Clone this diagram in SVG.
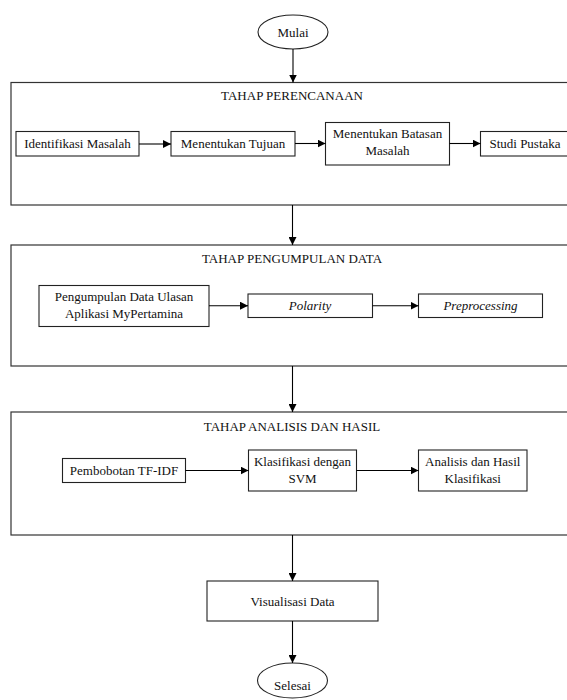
<svg xmlns="http://www.w3.org/2000/svg" width="567" height="700" viewBox="0 0 567 700">
<defs>
<marker id="arr" markerUnits="userSpaceOnUse" markerWidth="9" markerHeight="8" refX="8" refY="4" orient="auto">
<path d="M0,0 L8,4 L0,8 z" fill="#000"/>
</marker>
<style>
.box{fill:#fff;stroke:#222;stroke-width:1.1}
.stage{fill:none;stroke:#333;stroke-width:1.2}
.t{font-family:"Liberation Serif","Times New Roman",serif;font-size:13px;fill:#111;text-anchor:middle}
.i{font-style:italic}
.c{fill:none;stroke:#000;stroke-width:1.1;marker-end:url(#arr)}
</style>
</defs>
<rect width="567" height="700" fill="#fff"/>

<g id="stage1">
<rect class="stage" x="11" y="82.5" width="570" height="122.5"/>
<text class="t" x="292" y="100">TAHAP PERENCANAAN</text>
</g>
<g id="stage2">
<rect class="stage" x="11" y="245" width="570" height="121"/>
<text class="t" x="292" y="263">TAHAP PENGUMPULAN DATA</text>
</g>
<g id="stage3">
<rect class="stage" x="11" y="412" width="570" height="123"/>
<text class="t" x="292" y="431">TAHAP ANALISIS DAN HASIL</text>
</g>

<g id="mulai">
<ellipse class="box" cx="293" cy="32" rx="35" ry="17"/>
<text class="t" x="293" y="36.5">Mulai</text>
</g>

<g id="identifikasi">
<rect class="box" x="16" y="131.5" width="123" height="24.5"/>
<text class="t" x="77.5" y="148">Identifikasi Masalah</text>
</g>
<g id="tujuan">
<rect class="box" x="171" y="131.5" width="124" height="24.5"/>
<text class="t" x="233" y="148">Menentukan Tujuan</text>
</g>
<g id="batasan">
<rect class="box" x="325.5" y="122.5" width="124" height="42.5"/>
<text class="t" x="387.5" y="138">Menentukan Batasan</text>
<text class="t" x="387.5" y="154.5">Masalah</text>
</g>
<g id="studi">
<rect class="box" x="480.5" y="131.5" width="90" height="24.5"/>
<text class="t" x="525" y="148">Studi Pustaka</text>
</g>

<g id="pengumpulan">
<rect class="box" x="39" y="285.5" width="170" height="41"/>
<text class="t" x="124" y="301">Pengumpulan Data Ulasan</text>
<text class="t" x="124" y="317.5">Aplikasi MyPertamina</text>
</g>
<g id="polarity">
<rect class="box" x="248" y="294" width="124.5" height="23.5"/>
<text class="t i" x="310" y="310">Polarity</text>
</g>
<g id="preprocessing">
<rect class="box" x="418.5" y="294" width="124" height="23.5"/>
<text class="t i" x="480.5" y="310">Preprocessing</text>
</g>

<g id="pembobotan">
<rect class="box" x="62.5" y="458.5" width="123" height="24"/>
<text class="t" x="124" y="475">Pembobotan TF-IDF</text>
</g>
<g id="klasifikasi">
<rect class="box" x="248.5" y="450" width="108" height="41"/>
<text class="t" x="302.5" y="465.5">Klasifikasi dengan</text>
<text class="t" x="302.5" y="482.5">SVM</text>
</g>
<g id="analisis">
<rect class="box" x="418.5" y="450" width="108.5" height="41"/>
<text class="t" x="472.7" y="465.5">Analisis dan Hasil</text>
<text class="t" x="472.7" y="482.5">Klasifikasi</text>
</g>

<g id="visualisasi">
<rect class="box" x="207" y="581" width="171" height="40"/>
<text class="t" x="292.5" y="605.5">Visualisasi Data</text>
</g>
<g id="selesai">
<ellipse class="box" cx="292.5" cy="680.5" rx="35" ry="17.5"/>
<text class="t" x="292.5" y="690">Selesai</text>
</g>

<g id="connectors">
<line class="c" x1="293" y1="49" x2="293" y2="82.5"/>
<line class="c" x1="292.5" y1="205" x2="292.5" y2="245"/>
<line class="c" x1="292.5" y1="366" x2="292.5" y2="412"/>
<line class="c" x1="292.5" y1="535" x2="292.5" y2="581"/>
<line class="c" x1="292.5" y1="621" x2="292.5" y2="663"/>
<line class="c" x1="139" y1="144" x2="171" y2="144"/>
<line class="c" x1="295" y1="143.5" x2="325.5" y2="143.5"/>
<line class="c" x1="449.5" y1="143.5" x2="480.5" y2="143.5"/>
<line class="c" x1="209" y1="305.7" x2="248" y2="305.7"/>
<line class="c" x1="372.5" y1="305.7" x2="418.5" y2="305.7"/>
<line class="c" x1="185.5" y1="470.5" x2="248.5" y2="470.5"/>
<line class="c" x1="356.5" y1="470.5" x2="418.5" y2="470.5"/>
</g>
</svg>
